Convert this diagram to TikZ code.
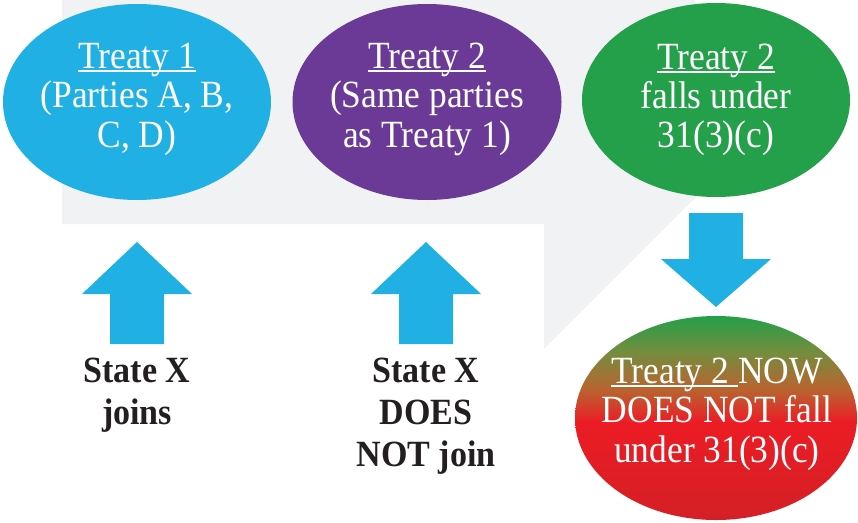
\documentclass[tikz,border=0pt]{standalone}
\usepackage{fontspec}
\setmainfont{Liberation Serif}[FakeStretch=0.92]
\usetikzlibrary{shapes.geometric}
\definecolor{cblue}{RGB}{32,176,227}
\definecolor{cpurple}{RGB}{107,58,150}
\definecolor{cgreen}{RGB}{36,160,74}
\definecolor{cgray}{RGB}{241,242,244}
\definecolor{cdark}{RGB}{35,31,32}
\definecolor{gA}{RGB}{34,160,72}
\definecolor{gB}{RGB}{118,140,62}
\definecolor{gC}{RGB}{185,100,48}
\definecolor{gD}{RGB}{236,28,36}
\definecolor{gE}{RGB}{212,31,38}
\pgfdeclareverticalshading{redgrad}{100bp}{color(0bp)=(gE); color(25bp)=(gE); color(49bp)=(gD); color(57bp)=(gC); color(66bp)=(gB); color(75bp)=(gA); color(100bp)=(gA)}
\newcommand\ulx[1]{\setbox0\hbox{#1}\rlap{\rule[-3.6pt]{\wd0}{1.3pt}}\box0}
\tikzset{
  oval/.style={ellipse, inner sep=0pt, draw=none},
  wtxt/.style={anchor=base, inner sep=0pt, text=white, font=\fontsize{38.5}{40}\selectfont},
  btxt/.style={anchor=base, inner sep=0pt, text=cdark, font=\fontsize{37}{42}\selectfont\bfseries},
  blockarrow/.style={fill=cblue, draw=none}
}
\begin{document}
\begin{tikzpicture}[x=1pt,y=-1pt]
\useasboundingbox (0,0) rectangle (858,522);
% gray background band
\fill[cgray] (62,0) -- (693,0) -- (793,100) -- (544,349) -- (544,224) -- (62,224) -- cycle;
% ellipses
\node[oval, fill=cblue, minimum width=268pt, minimum height=196pt] (e1) at (137,102) {};
\node[oval, fill=cpurple, minimum width=269pt, minimum height=196pt] (e2) at (427,102) {};
\node[oval, fill=cgreen, minimum width=268pt, minimum height=194pt] (e3) at (716,100) {};
\node[oval, shading=redgrad, minimum width=282pt, minimum height=204pt] (e4) at (716,418) {};
% ellipse texts
\node[wtxt] (e1a) at (137,68) {\ulx{Treaty 1}};
\node[wtxt] (e1b) at (137,107) {(Parties A, B,};
\node[wtxt] (e1c) at (137,147) {C, D)};
\node[wtxt] (e2a) at (427,68) {\ulx{Treaty 2}};
\node[wtxt] (e2b) at (427,107) {(Same parties};
\node[wtxt] (e2c) at (427,147) {as Treaty 1)};
\node[wtxt] (e3a) at (716,69) {\ulx{Treaty 2}};
\node[wtxt] (e3b) at (716,108) {falls under};
\node[wtxt] (e3c) at (716,147) {31(3)(c)};
\node[wtxt] (e4a) at (717,383) {\ulx{Treaty 2 }NOW};
\node[wtxt] (e4b) at (717,422) {DOES NOT fall};
\node[wtxt] (e4c) at (717,462) {under 31(3)(c)};
% labels
\node[btxt] (l1a) at (137,382) {State X};
\node[btxt] (l1b) at (137,424) {joins};
\node[btxt] (l2a) at (426,382) {State X};
\node[btxt] (l2b) at (426,424) {DOES};
\node[btxt] (l2c) at (426,466) {NOT join};
% block arrows
\coordinate (u1) at (137,242);
\coordinate (u2) at (426,242);
\coordinate (d1) at (716,307);
\fill[blockarrow] (u1) -- ++(55,52) -- ++(-28,0) -- ++(0,50) -- ++(-54,0) -- ++(0,-50) -- ++(-28,0) -- cycle;
\fill[blockarrow] (u2) -- ++(55,52) -- ++(-28,0) -- ++(0,50) -- ++(-54,0) -- ++(0,-50) -- ++(-28,0) -- cycle;
\fill[blockarrow] (d1) -- ++(55,-48) -- ++(-28,0) -- ++(0,-46) -- ++(-54,0) -- ++(0,46) -- ++(-28,0) -- cycle;
\end{tikzpicture}
\end{document}
